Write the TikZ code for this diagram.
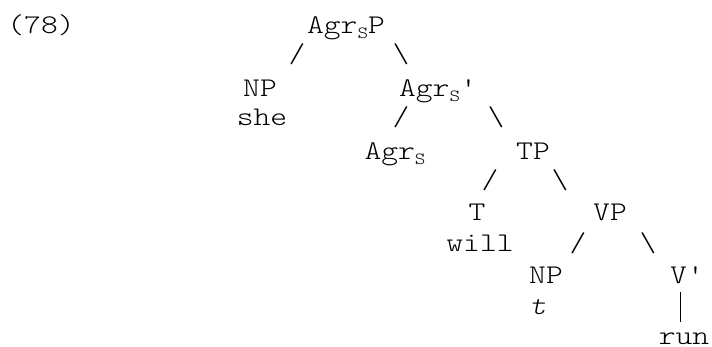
\documentclass[tikz,border=0pt]{standalone}
\usepackage{fontspec}
\newfontfamily\treemono{lmmonolt10-regular}[Extension=.otf, ItalicFont=lmmonolt10-oblique, FakeStretch=1.185]
\newcommand\subS{{\fontsize{17}{17}\selectfont\raisebox{-5pt}{S}}}
\newcommand\aposq{\char"27\relax}
\tikzset{
  lbl/.style={inner sep=0pt, outer sep=0pt, anchor=base, text=black,
    font=\treemono\fontsize{27}{27}\selectfont},
  branch/.style={lbl},
  barline/.style={draw=black, line width=1.4pt},
}
\begin{document}
\begin{tikzpicture}[x=1pt,y=-1pt]
\useasboundingbox[fill=white] (0,0) rectangle (712,346);
% example number
\node[lbl] (num) at (41,33) {(78)};
% row A
\node[lbl] (agrsp) at (346,33) {Agr\subS P};
\node[branch] (b1) at (297,62) {/};
\node[branch] (b2) at (401,62) {\textbackslash};
% row B
\node[lbl] (np1) at (260,96) {NP};
\node[lbl] (agrsbar) at (438,96) {Agr\subS\aposq};
\node[lbl] (she) at (262,125) {she};
\node[branch] (b3) at (401,125) {/};
\node[branch] (b4) at (496,125) {\textbackslash};
% row C
\node[lbl] (agrs) at (395,159) {Agr\subS};
\node[lbl] (tp) at (533,159) {TP};
\node[branch] (b5) at (490,188) {/};
\node[branch] (b6) at (560,188) {\textbackslash};
% row D
\node[lbl] (t) at (477,220) {T};
\node[lbl] (vp) at (610,220) {VP};
\node[lbl] (will) at (480,251) {will};
\node[branch] (b7) at (578,251) {/};
\node[branch] (b8) at (648,251) {\textbackslash};
% row E
\node[lbl] (np2) at (546,283) {NP};
\node[lbl] (vbar) at (687,283) {V\aposq};
\node[lbl] (trace) at (538,314) {\itshape t};
\coordinate (bartop) at (680.5,292);
\coordinate (barbot) at (680.5,322);
\draw[barline] (bartop) -- (barbot);
% row F
\node[lbl] (run) at (684,344) {run};
\end{tikzpicture}
\end{document}
